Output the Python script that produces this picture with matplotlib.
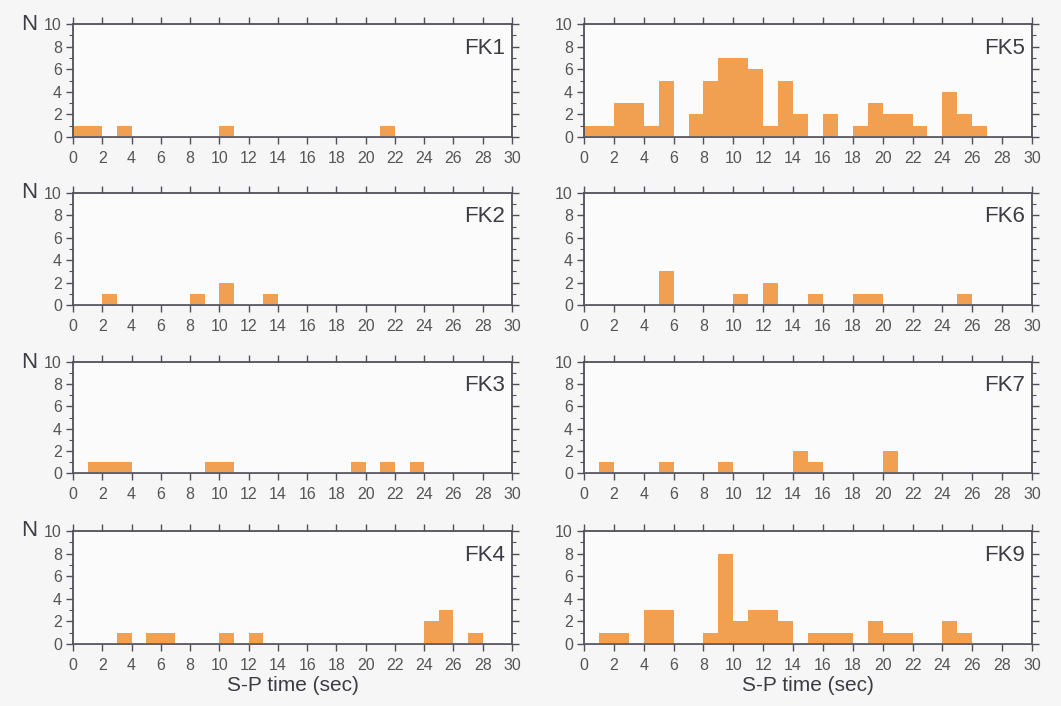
import numpy as np
import matplotlib
matplotlib.use("Agg")
import matplotlib.pyplot as plt
from matplotlib.ticker import MultipleLocator

plt.rcParams["font.family"] = ["Liberation Sans", "DejaVu Sans"]

# S-P time bins (1 s wide), left edges 0..29
bin_edges = np.arange(0, 30)

fk1 = {0: 1, 1: 1, 3: 1, 10: 1, 21: 1}
fk2 = {2: 1, 8: 1, 10: 2, 13: 1}
fk3 = {1: 1, 2: 1, 3: 1, 9: 1, 10: 1, 19: 1, 21: 1, 23: 1}
fk4 = {3: 1, 5: 1, 6: 1, 10: 1, 12: 1, 24: 2, 25: 3, 27: 1}
fk5 = {0: 1, 1: 1, 2: 3, 3: 3, 4: 1, 5: 5, 7: 2, 8: 5, 9: 7, 10: 7,
       11: 6, 12: 1, 13: 5, 14: 2, 16: 2, 18: 1, 19: 3, 20: 2, 21: 2,
       22: 1, 24: 4, 25: 2, 26: 1}
fk6 = {5: 3, 10: 1, 12: 2, 15: 1, 18: 1, 19: 1, 25: 1}
fk7 = {1: 1, 5: 1, 9: 1, 14: 2, 15: 1, 20: 2}
fk9 = {1: 1, 2: 1, 4: 3, 5: 3, 8: 1, 9: 8, 10: 2, 11: 3, 12: 3, 13: 2,
       15: 1, 16: 1, 17: 1, 19: 2, 20: 1, 21: 1, 24: 2, 25: 1}

left_col = [("FK1", fk1), ("FK2", fk2), ("FK3", fk3), ("FK4", fk4)]
right_col = [("FK5", fk5), ("FK6", fk6), ("FK7", fk7), ("FK9", fk9)]

BAR = "#f0a050"
FRAME = "#50505a"
TXT = "#555555"
BG = "#f6f6f6"

W, H = 1061, 706
fig = plt.figure(figsize=(W / 100, H / 100), dpi=100)
fig.patch.set_facecolor(BG)

# panel boxes in pixels: (left, right), rows (top, bottom)
cols_px = [(73, 512), (584, 1032)]
rows_px = [(24, 137), (193, 305), (362, 473), (531, 644)]


def draw_panel(ax, name, counts, show_n):
    vals = np.array([counts.get(int(b), 0) for b in bin_edges])
    ax.bar(bin_edges, vals, width=1.0, align="edge", color=BAR, linewidth=0)
    ax.axhline(0, color="#9a9aa0", linewidth=1.0, zorder=3)
    ax.set_xlim(0, 30)
    ax.set_ylim(0, 10)
    ax.set_facecolor("#fbfbfb")
    ax.xaxis.set_major_locator(MultipleLocator(2))
    ax.yaxis.set_major_locator(MultipleLocator(2))
    ax.yaxis.set_minor_locator(MultipleLocator(1))
    ax.tick_params(which="both", direction="out", colors=FRAME,
                   top=True, right=True, labelcolor=TXT, labelsize=11.5)
    ax.tick_params(which="major", length=5, width=1)
    ax.tick_params(which="minor", length=3, width=0.8)
    ax.tick_params(axis="x", pad=5)
    ax.tick_params(axis="y", pad=3)
    for sp in ax.spines.values():
        sp.set_color(FRAME)
        sp.set_linewidth(1.3)
    ax.text(0.985, 0.88, name, transform=ax.transAxes, ha="right", va="top",
            fontsize=16, color="#3c3c44")
    if show_n:
        ax.text(-0.118, 1.0, "N", transform=ax.transAxes, ha="left",
                va="center", fontsize=16, color="#3c3c44")


for c, panels in enumerate([left_col, right_col]):
    x0, x1 = cols_px[c]
    for r, (name, counts) in enumerate(panels):
        y0, y1 = rows_px[r]
        ax = fig.add_axes([x0 / W, 1 - y1 / H, (x1 - x0) / W, (y1 - y0) / H])
        draw_panel(ax, name, counts, show_n=(c == 0))
        if r == len(panels) - 1:
            ax.set_xlabel("S-P time (sec)", fontsize=15, color="#3c3c44",
                          labelpad=2)

fig.savefig("out.png", dpi=100, facecolor=BG)
